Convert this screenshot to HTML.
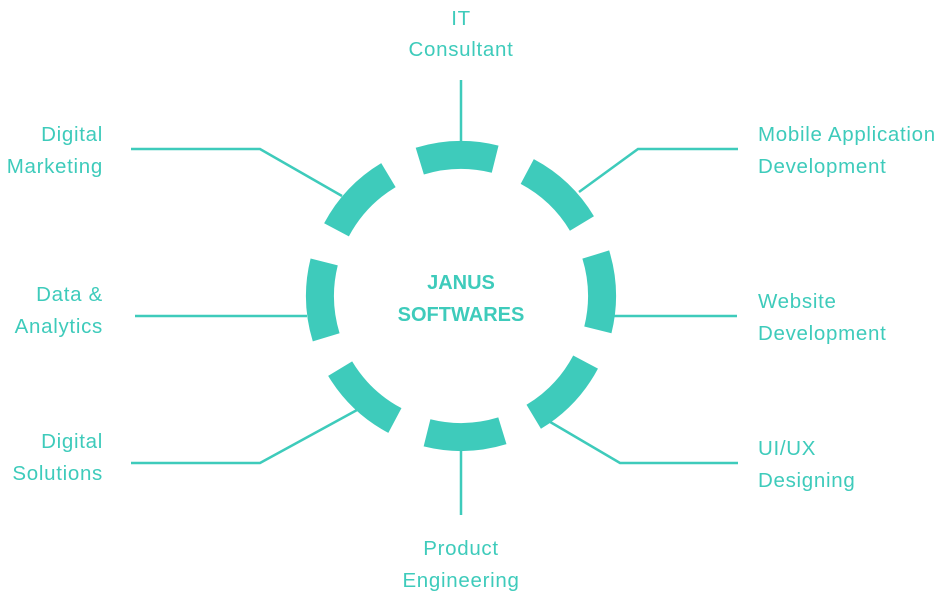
<!DOCTYPE html>
<html><head><meta charset="utf-8"><style>
html,body{margin:0;padding:0;background:#fff;}
svg{display:block}
text{font-family:"Liberation Sans",sans-serif;font-size:20.5px;letter-spacing:0.7px;fill:#3ECBBB;}
.b{font-weight:bold;font-size:20px;letter-spacing:0}
</style></head><body>
<svg width="952" height="595" viewBox="0 0 952 595" xmlns="http://www.w3.org/2000/svg">
<g stroke="#3ECBBB" stroke-width="2.5" fill="none">
<line x1="461" y1="80" x2="461" y2="142"/>
<line x1="461" y1="450" x2="461" y2="515"/>
<line x1="135" y1="316" x2="307" y2="316"/>
<line x1="614" y1="316" x2="737" y2="316"/>
<polyline points="131,149 260,149 342,196"/>
<polyline points="579,192 638,149 738,149"/>
<polyline points="131,463 260,463 357,410"/>
<polyline points="540,416 620,463 738,463"/>
</g>
<circle cx="461" cy="296" r="141" fill="none" stroke="#3ECBBB" stroke-width="28" stroke-dasharray="76.3 34.44" transform="rotate(-17.1 461 296)"/>
<g text-anchor="middle">
<text x="461" y="25">IT</text>
<text x="461" y="56">Consultant</text>
<text x="461" y="555">Product</text>
<text x="461" y="587">Engineering</text>
<text class="b" x="461" y="289">JANUS</text>
<text class="b" x="461" y="321">SOFTWARES</text>
</g>
<g text-anchor="end">
<text x="103" y="141">Digital</text>
<text x="103" y="173">Marketing</text>
<text x="103" y="301">Data &amp;</text>
<text x="103" y="333">Analytics</text>
<text x="103" y="448">Digital</text>
<text x="103" y="480">Solutions</text>
</g>
<g>
<text x="758" y="141">Mobile Application</text>
<text x="758" y="173">Development</text>
<text x="758" y="308">Website</text>
<text x="758" y="340">Development</text>
<text x="758" y="455">UI/UX</text>
<text x="758" y="487">Designing</text>
</g>
</svg>
</body></html>
